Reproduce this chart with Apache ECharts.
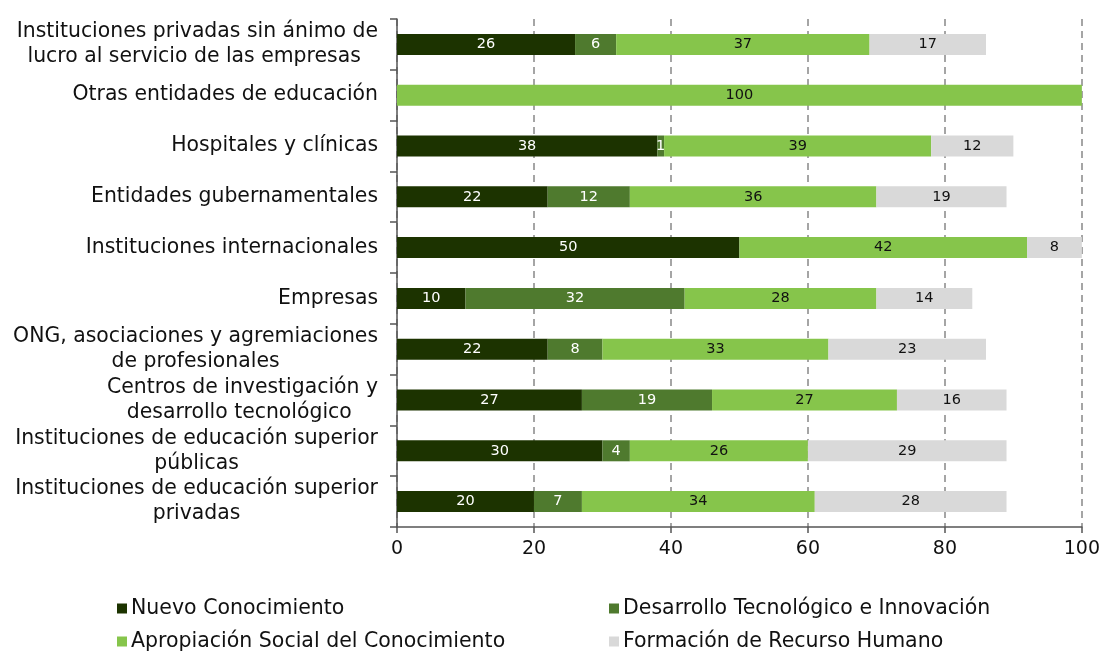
<!DOCTYPE html>
<html>
<head>
<meta charset="utf-8">
<script src="https://cdn.jsdelivr.net/npm/echarts@6/dist/echarts.min.js"></script>
<style>
  html, body { margin: 0; padding: 0; background: #fff; }
  #chart { width: 1103px; height: 652px; }
</style>
</head>
<body>
<div id="chart"></div>
<script>
// categories top to bottom
const categories = [
  "Instituciones privadas sin ánimo de\nlucro al servicio de las empresas ",
  "Otras entidades de educación",
  "Hospitales y clínicas",
  "Entidades gubernamentales",
  "Instituciones internacionales",
  "Empresas",
  "ONG, asociaciones y agremiaciones\nde profesionales",
  "Centros de investigación y\ndesarrollo tecnológico ",
  "Instituciones de educación superior\npúblicas",
  "Instituciones de educación superior\nprivadas"
]
const seriesNames = [
  "Nuevo Conocimiento",
  "Desarrollo Tecnológico e Innovación",
  "Apropiación Social del Conocimiento",
  "Formación de Recurso Humano"
]
const nuevoConocimiento = [26, 0, 38, 22, 50, 10, 22, 27, 30, 20]
const desarrolloTecnologico = [6, 0, 1, 12, 0, 32, 8, 19, 4, 7]
const apropiacionSocial = [37, 100, 39, 36, 42, 28, 33, 27, 26, 34]
const formacionRecurso = [17, 0, 12, 19, 8, 14, 23, 16, 29, 28]
const xTicks = [0, 20, 40, 60, 80, 100]

const font = "DejaVu Sans"

const myE = echarts.init(document.getElementById("chart"))

const makeSeries = (name, data, color, labelColor) => ({
  name: name,
  type: "bar",
  stack: "total",
  barWidth: 21,
  data: data,
  itemStyle: { color: color },
  label: {
    show: true,
    position: "inside",
    color: labelColor,
    fontFamily: font,
    fontSize: 14.5,
    formatter: (p) => (p.value === 0 ? "" : p.value),
  },
})

// one legend per item, laid out in two columns
const legendPos = [
  { left: 117, top: 598 },
  { left: 609, top: 598 },
  { left: 117, top: 631 },
  { left: 609, top: 631 },
]
const legends = seriesNames.map((n, i) => ({
  data: [n],
  left: legendPos[i].left,
  top: legendPos[i].top,
  padding: 0,
  itemWidth: 10,
  itemHeight: 10,
  itemGap: 0,
  icon: "rect",
  textStyle: { fontFamily: font, fontSize: 20.5, color: "#111", padding: [0, 0, 0, -1] },
}))

let option = {
  animation: false,
  textStyle: { fontFamily: font },
  grid: {
    top: 19,
    left: 397,
    right: 21,
    bottom: 125,
  },
  legend: legends,
  xAxis: {
    type: "value",
    min: 0,
    max: 100,
    interval: 20,
    axisLine: { show: true, lineStyle: { color: "#555", width: 1.5 } },
    axisTick: { show: true, length: 6, lineStyle: { color: "#555", width: 1.5 } },
    axisLabel: {
      fontFamily: font,
      fontSize: 19,
      color: "#111",
      margin: 13,
      formatter: (v) => (xTicks.indexOf(v) >= 0 ? v : ""),
    },
    splitLine: {
      show: true,
      lineStyle: { color: "#888", width: 1.5, type: [7, 5] },
    },
  },
  yAxis: {
    type: "category",
    inverse: true,
    data: categories,
    axisLine: { show: true, lineStyle: { color: "#555", width: 1.5 } },
    axisTick: { show: true, length: 7, lineStyle: { color: "#555", width: 1.5 } },
    axisLabel: {
      fontFamily: font,
      fontSize: 20.4,
      color: "#111",
      margin: 19,
      lineHeight: 25,
      formatter: (v) => {
        const lines = v.split("\n")
        if (lines.length === 1) return v
        return lines.map((l) => "{c|" + l + "}").join("\n")
      },
      rich: {
        c: {
          align: "center",
          fontFamily: font,
          fontSize: 20.4,
          color: "#111",
          lineHeight: 25,
        },
      },
    },
  },
  series: [
    makeSeries(seriesNames[0], nuevoConocimiento, "#1c3300", "#fff"),
    makeSeries(seriesNames[1], desarrolloTecnologico, "#4f7a2e", "#fff"),
    makeSeries(seriesNames[2], apropiacionSocial, "#86c54b", "#111"),
    makeSeries(seriesNames[3], formacionRecurso, "#d9d9d9", "#111"),
  ],
}
myE.setOption(option)
window.addEventListener("resize", () => {
  myE.resize()
})
</script>
</body>
</html>
